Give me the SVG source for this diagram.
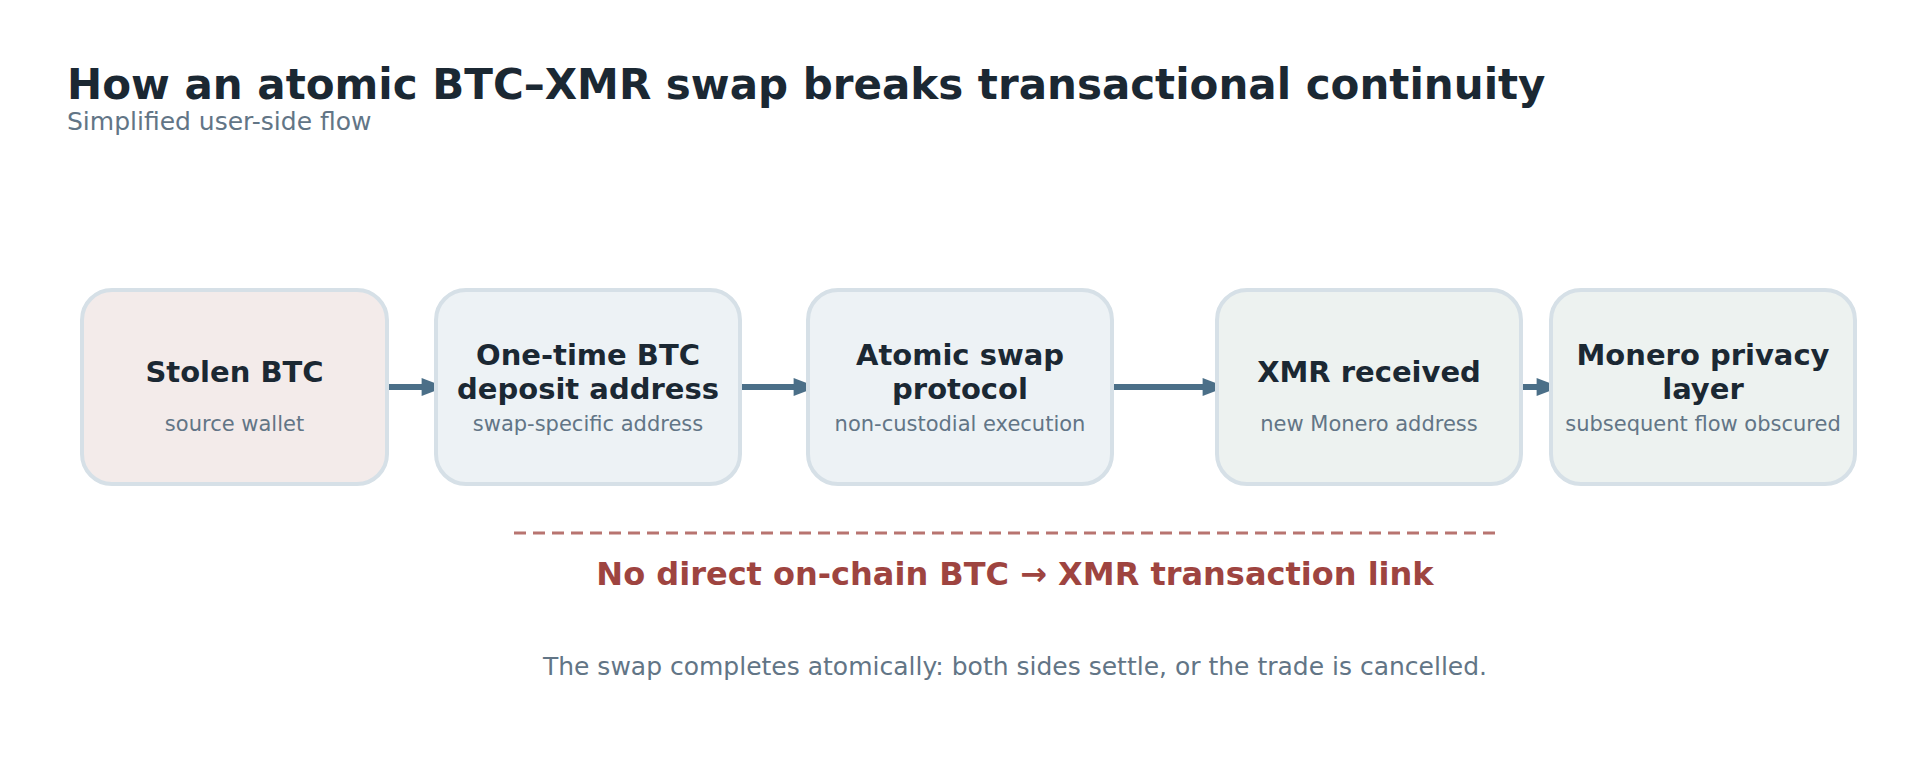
<svg xmlns="http://www.w3.org/2000/svg" width="1920" height="768" viewBox="0 0 1920 768">
<defs>
<style>
text{font-family:"DejaVu Sans","Liberation Sans",sans-serif}
.box{stroke:#d6e0e7;stroke-width:4}
.t{font-size:29px;font-weight:bold;fill:#1b2833;text-anchor:middle}
.s{font-size:21px;fill:#627586;text-anchor:middle}
.c{stroke:#4b6f88;stroke-width:6;fill:none}
</style>
<marker id="ah" viewBox="0 0 10 10" refX="9" refY="5" markerWidth="3" markerHeight="5" markerUnits="strokeWidth" orient="auto">
<path d="M1 0 L9 3 L9 7 L1 10 Z" fill="#4b6f88"/>
</marker>
</defs>
<rect width="1920" height="768" fill="#fff"/>
<text x="67" y="99" font-size="42" font-weight="bold" fill="#1b2833">How an atomic BTC–XMR swap breaks transactional continuity</text>
<text x="67" y="130" font-size="25" fill="#627586">Simplified user-side flow</text>
<g id="connectors">
<line class="c" x1="389" y1="387" x2="436" y2="387" marker-end="url(#ah)"/>
<line class="c" x1="742" y1="387" x2="808" y2="387" marker-end="url(#ah)"/>
<line class="c" x1="1114" y1="387" x2="1217" y2="387" marker-end="url(#ah)"/>
<line class="c" x1="1523" y1="387" x2="1551" y2="387" marker-end="url(#ah)"/>
</g>
<g id="n1"><rect class="box" x="82" y="290" width="305" height="194" rx="30" fill="#f3ebea"/>
<text class="t" x="234.5" y="382">Stolen BTC</text><text class="s" x="234.5" y="431">source wallet</text></g>
<g id="n2"><rect class="box" x="436" y="290" width="304" height="194" rx="30" fill="#edf2f5"/>
<text class="t" x="588" y="365">One-time BTC</text><text class="t" x="588" y="399">deposit address</text><text class="s" x="588" y="431">swap-specific address</text></g>
<g id="n3"><rect class="box" x="808" y="290" width="304" height="194" rx="30" fill="#edf2f5"/>
<text class="t" x="960" y="365">Atomic swap</text><text class="t" x="960" y="399">protocol</text><text class="s" x="960" y="431">non-custodial execution</text></g>
<g id="n4"><rect class="box" x="1217" y="290" width="304" height="194" rx="30" fill="#edf2f0"/>
<text class="t" x="1369" y="382">XMR received</text><text class="s" x="1369" y="431">new Monero address</text></g>
<g id="n5"><rect class="box" x="1551" y="290" width="304" height="194" rx="30" fill="#edf2f0"/>
<text class="t" x="1703" y="365">Monero privacy</text><text class="t" x="1703" y="399">layer</text><text class="s" x="1703" y="431">subsequent flow obscured</text></g>
<line x1="514" y1="533" x2="1496" y2="533" stroke="#b87470" stroke-width="3" stroke-dasharray="12 7"/>
<text x="1015" y="585" font-size="32" font-weight="bold" fill="#9e4440" text-anchor="middle">No direct on-chain BTC → XMR transaction link</text>
<text x="1015" y="675" font-size="25" fill="#627586" text-anchor="middle">The swap completes atomically: both sides settle, or the trade is cancelled.</text>
</svg>
